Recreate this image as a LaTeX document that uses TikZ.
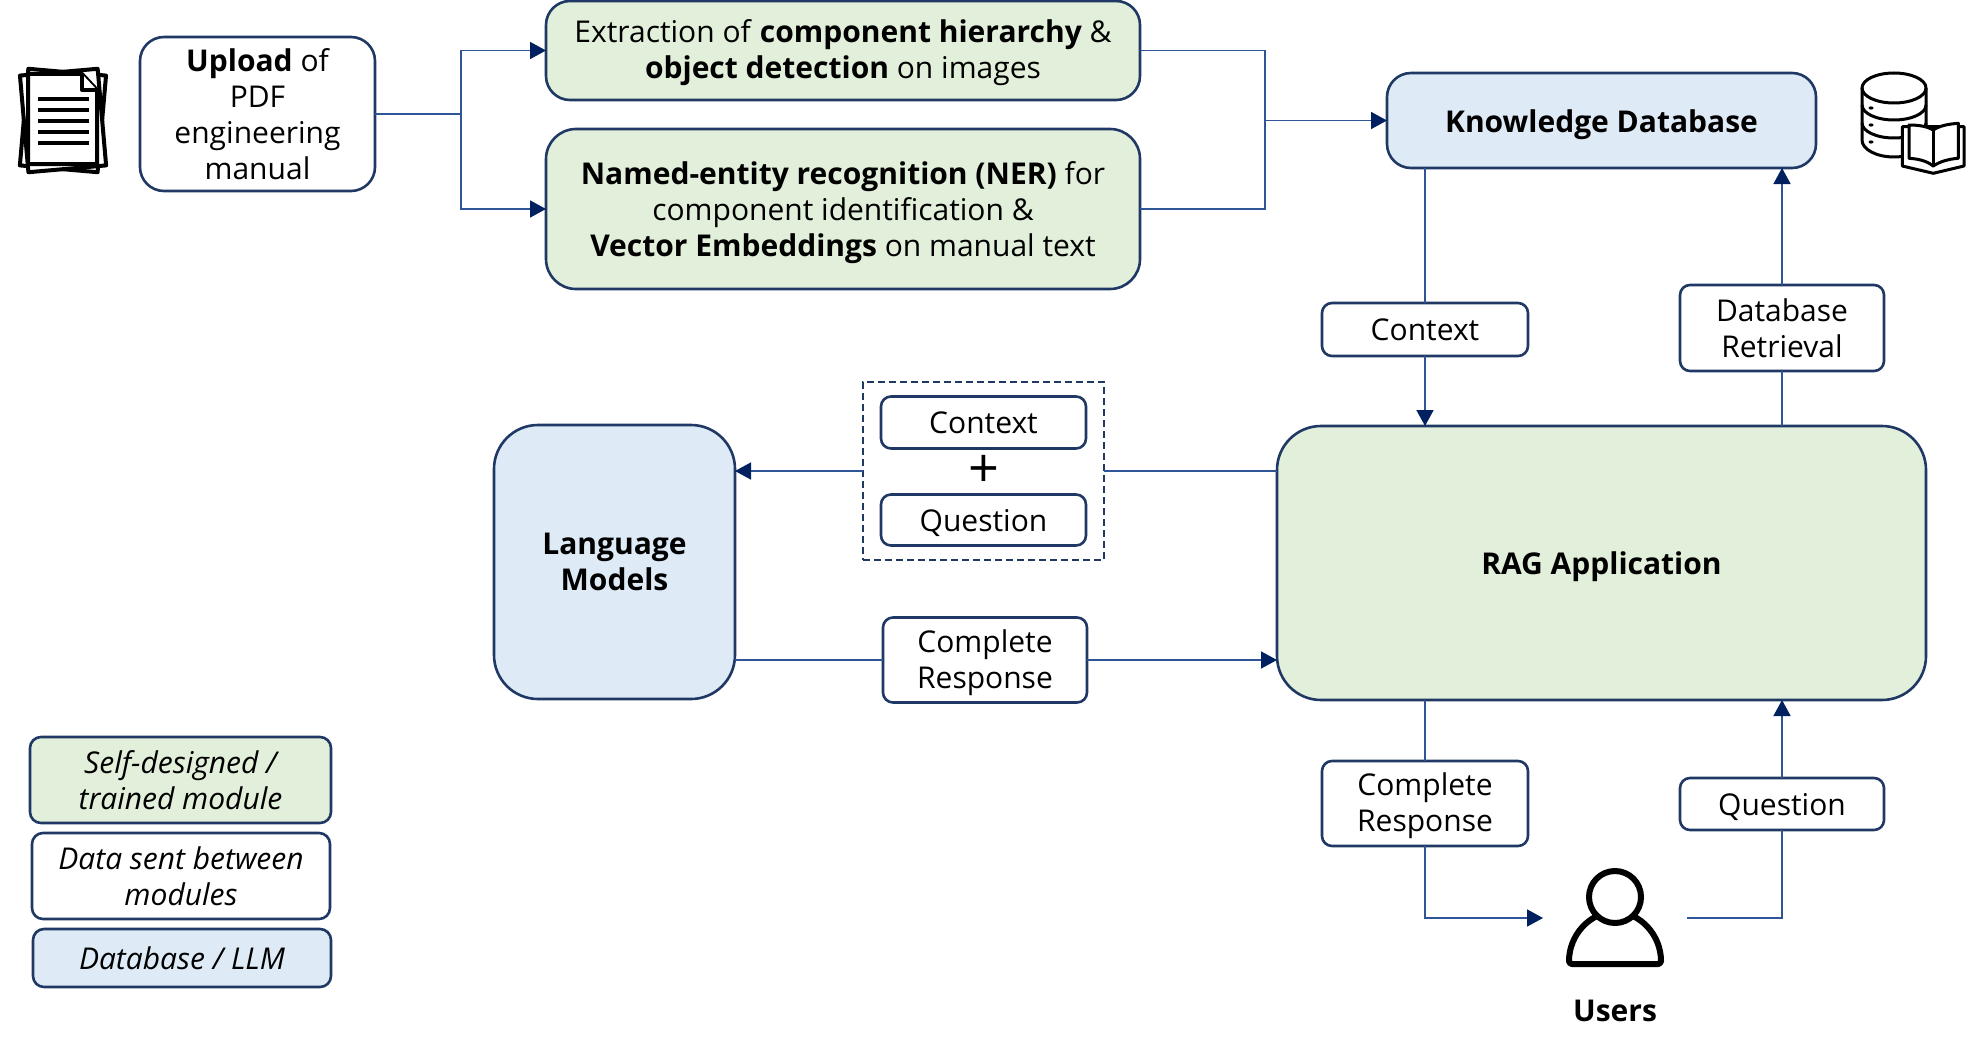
\documentclass[tikz,border=0pt]{standalone}
\usepackage{fontspec}
\setmainfont{Open Sans}
\usetikzlibrary{arrows.meta,positioning,calc,fit}
\definecolor{navyline}{HTML}{1F3864}
\definecolor{flowline}{HTML}{2F5597}
\definecolor{tipblue}{HTML}{002060}
\definecolor{modgreen}{HTML}{E2EFDA}
\definecolor{dbblue}{HTML}{DEEAF6}
\tikzset{
  box/.style={rectangle, rounded corners=14pt, draw=navyline, line width=2.6pt, fill=white,
    align=center, inner sep=0pt, outer sep=0pt, font=\fontsize{30}{36}\selectfont},
  modbox/.style={box, rounded corners=24pt, fill=modgreen},
  dbbox/.style={box, rounded corners=24pt, fill=dbblue},
  databox/.style={box, rounded corners=10pt},
  legbox/.style={box, rounded corners=11pt, font=\fontsize{30}{36}\selectfont\itshape},
  icon/.style={rectangle, inner sep=0pt, outer sep=0pt},
  flow/.style={-{Triangle[length=16pt, width=17pt, color=tipblue]}, line width=1.6pt, draw=flowline},
  flowend/.style={line width=1.6pt, draw=flowline},
  ink/.style={draw=black, line join=round, line width=4pt},
}

\begin{document}
\begin{tikzpicture}[x=1pt, y=1pt]
  \useasboundingbox (0,0) rectangle (1980,-1062);
  % top row
  \node[box, rounded corners=24pt, minimum width=235pt, minimum height=154pt] (upload) at (257.5,-114)
    {\textbf{Upload} of\\PDF\\engineering\\manual};
  \node[modbox, minimum width=594pt, minimum height=99pt, text height=64pt, right=171pt of upload, yshift=63.5pt] (extract)
    {Extraction of \textbf{component hierarchy} \&\\\textbf{object detection} on images};
  \node[modbox, rounded corners=30pt, minimum width=594pt, minimum height=160pt, text height=103pt, below=29pt of extract] (ner)
    {\textbf{Named-entity recognition (NER)} for\\component identification \&\\\textbf{Vector Embeddings} on manual text};
  \node[dbbox, minimum width=429pt, minimum height=95pt, text height=31pt, right=247pt of extract, yshift=-70pt] (kdb)
    {\textbf{Knowledge Database}};
  \coordinate (junctiona) at ($(upload.east)+(86,0)$);
  \coordinate (junctionb) at ($(kdb.west)+(-122,0)$);
  % middle row
  \node[modbox, rounded corners=44pt, minimum width=649pt, minimum height=274pt, text height=31pt, below=258pt of kdb] (rag)
    {\textbf{RAG Application}};
  \node[dbbox, rounded corners=44pt, minimum width=241pt, minimum height=274pt, left=542pt of rag, yshift=1pt] (lm)
    {\textbf{Language}\\\textbf{Models}};
  \node[databox, minimum width=205pt, minimum height=52pt, right=146pt of lm, yshift=139.5pt] (ctxb) {Context};
  \node[databox, minimum width=205pt, minimum height=51pt, text height=28pt, below=46pt of ctxb] (qnb) {Question};
  \node[font=\fontsize{54}{54}\selectfont, inner sep=0pt] (plus) at ($(ctxb)!.5!(qnb)$) {+};
  \node[draw=navyline, dash pattern=on 7pt off 4pt, line width=2.6pt, inner xsep=18pt, inner ysep=14.5pt, outer sep=0pt, fit=(ctxb)(qnb)] (group) {};
  \node[databox, minimum width=204pt, minimum height=85pt, text height=64pt, right=148pt of lm, yshift=-98pt] (resp)
    {Complete\\Response};
  \node[databox, minimum width=206pt, minimum height=53pt, below=135pt of kdb, xshift=-176.5pt] (ctxa) {Context};
  \node[databox, minimum width=204pt, minimum height=86pt, below=117pt of kdb, xshift=180.5pt] (dbr)
    {Database\\Retrieval};
  % bottom row
  \node[databox, minimum width=206pt, minimum height=85pt, text height=64pt, below=61pt of rag, xshift=-176.5pt] (cra)
    {Complete\\Response};
  \node[databox, minimum width=204pt, minimum height=52pt, text height=28pt, below=78pt of rag, xshift=180.5pt] (qnc) {Question};
  \node[icon, minimum width=144pt, minimum height=100pt, below=168pt of rag, xshift=13.5pt] (usericon) {};
  \node[below=31.5pt of usericon, inner sep=0pt, font=\fontsize{30}{36}\selectfont\bfseries] (users) {Users};
  % legend
  \node[legbox, fill=modgreen, minimum width=301pt, minimum height=86pt, below=546pt of upload, xshift=-77pt] (leggreen)
    {Self-designed /\\trained module};
  \node[legbox, minimum width=298pt, minimum height=86pt, below=10pt of leggreen, xshift=.5pt] (legwhite)
    {Data sent between\\modules};
  \node[legbox, fill=dbblue, minimum width=298pt, minimum height=58pt, below=10pt of legwhite, xshift=1pt] (legblue)
    {Database / LLM};
  % icons
  \node[icon, minimum width=88pt, minimum height=107pt, left=33pt of upload, yshift=-6pt] (docicon) {};
  \node[icon, minimum width=102pt, minimum height=100pt, right=46pt of kdb, yshift=-2.5pt] (dbicon) {};
  \begin{scope}[shift={(docicon)}]
    \draw[ink, fill=white, rotate=-5] (-39,-49) rectangle (39,48);
    \draw[ink, fill=white, rotate=5] (-39,-49) rectangle (39,48);
    \draw[ink, fill=white] (-35,46) -- (19,46) -- (34,30) -- (34,-44) -- (-35,-44) -- cycle;
    \draw[ink, fill=white] (19,46) -- (19,30) -- (34,30);
    \foreach \ypos in {21,10,-1,-12,-23}
      \draw[ink] (-25,\ypos) -- (26,\ypos);
  \end{scope}
  \begin{scope}[shift={(dbicon)}]
    \draw[ink, line width=3pt] (-51,35) -- (-51,-17) arc (180:360:32 and 17) -- (13,35);
    \draw[ink, line width=3pt] (-19,35) ellipse (32 and 15);
    \draw[ink, line width=3pt] (-51,18) arc (180:360:32 and 15);
    \draw[ink, line width=3pt] (-51,0) arc (180:360:32 and 15);
    \foreach \ypos in {15,-2,-19}
      \fill (-42,\ypos) ellipse (2.5 and 1.6);
    \draw[ink, line width=3pt, fill=white] (-10.7,-3.7) -- (-10.7,-43) -- (20.3,-50.3) -- (51,-43) -- (51,-3.7) -- cycle;
    \draw[ink, line width=3pt, fill=white] (-4,-2) .. controls (8,-2) and (15,-4) .. (20.3,-7)
      .. controls (26,-3) and (35,-1) .. (45.3,-.3) -- (45.3,-35.3)
      .. controls (35,-36) and (26,-39) .. (20.3,-43) .. controls (15,-39) and (8,-36) .. (-4,-35.3) -- cycle;
    \draw[ink, line width=3pt] (20.3,-7) -- (20.3,-43);
  \end{scope}
  \begin{scope}[shift={(usericon)}]
    \draw[ink, line width=6pt, rounded corners=3pt] (-46,-46) arc (180:0:46 and 52) -- cycle;
    \draw[ink, line width=6pt, fill=white] (0,21) circle (26);
  \end{scope}
  % connectors
  \draw[flowend] (upload.east) -- (junctiona);
  \draw[flow] (junctiona) |- (extract.west);
  \draw[flow] (junctiona) |- (ner.west);
  \draw[flowend] (extract.east) -| (junctionb);
  \draw[flowend] (ner.east) -| (junctionb);
  \draw[flow] (junctionb) -- (kdb.west);
  \draw[flowend] (ctxa.north |- kdb.south) -- (ctxa.north);
  \draw[flow] (ctxa.south) -- (ctxa.south |- rag.north);
  \draw[flowend] (dbr.south |- rag.north) -- (dbr.south);
  \draw[flow] (dbr.north) -- (dbr.north |- kdb.south);
  \draw[flowend] (rag.west |- group.east) -- (group.east);
  \draw[flow] (group.west) -- (group.west -| lm.east);
  \draw[flowend] (lm.east |- resp.west) -- (resp.west);
  \draw[flow] (resp.east) -- (resp.east -| rag.west);
  \draw[flowend] (cra.north |- rag.south) -- (cra.north);
  \draw[flow] (cra.south) |- (usericon.west);
  \draw[flowend] (usericon.east) -| (qnc.south);
  \draw[flow] (qnc.north) -- (qnc.north |- rag.south);
\end{tikzpicture}
\end{document}
